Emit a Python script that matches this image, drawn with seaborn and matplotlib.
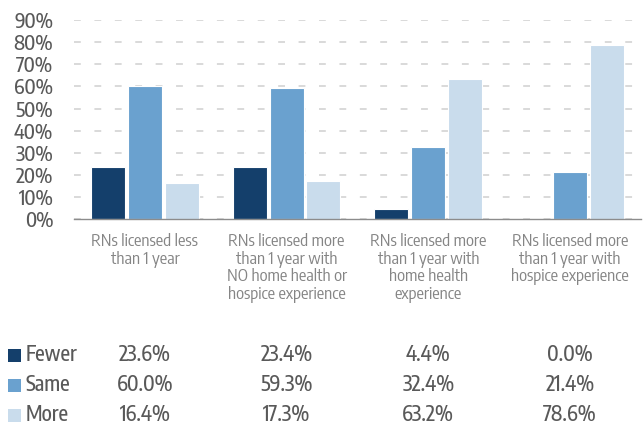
import matplotlib
matplotlib.use("Agg")
import matplotlib.pyplot as plt
import matplotlib.transforms as mtransforms
from matplotlib.patches import Rectangle
import seaborn as sns
import pandas as pd

categories = [
    "RNs licensed less\nthan 1 year",
    "RNs licensed more\nthan 1 year with\nNO home health or\nhospice experience",
    "RNs licensed more\nthan 1 year with\nhome health\nexperience",
    "RNs licensed more\nthan 1 year with\nhospice experience",
]
series = ["Fewer", "Same", "More"]
fewer = [23.6, 23.4, 4.4, 0.0]
same = [60.0, 59.3, 32.4, 21.4]
more = [16.4, 17.3, 63.2, 78.6]
yticks = [0, 10, 20, 30, 40, 50, 60, 70, 80, 90]

colors = ["#143F6B", "#6AA1CF", "#C9DCEC"]
text_color = "#595959"
label_color = "#858585"

rows = []
for name, vals in zip(series, [fewer, same, more]):
    for c, v in zip(categories, vals):
        rows.append({"category": c, "series": name, "value": v})
df = pd.DataFrame(rows)

sns.set_style("white")
plt.rcParams["font.family"] = ["Encode Sans Condensed", "DejaVu Sans"]

fig = plt.figure(figsize=(6.44, 4.29), dpi=100)
ax = fig.add_axes([0.115, 0.4895, 0.88, 0.4635])

sns.barplot(data=df, x="category", y="value", hue="series", order=categories,
            hue_order=series, palette=colors, saturation=1, width=0.78, gap=0.08,
            edgecolor="white", linewidth=0.8, ax=ax, legend=False, zorder=3)

ax.set_ylim(0, 90)
ax.set_xlim(-0.5, 3.5)
ax.set_yticks(yticks)
ax.set_yticklabels([f"{t}%" for t in yticks], fontsize=14.5, color=text_color,
                   fontweight=500)
ax.tick_params(axis="y", length=0, pad=15)
ax.tick_params(axis="x", length=0, pad=10)
for lab in ax.get_xticklabels():
    lab.set_fontsize(12)
    lab.set_color(label_color)
    lab.set_linespacing(1.05)
ax.set_xlabel("")
ax.set_ylabel("")
for s in ["top", "right", "left"]:
    ax.spines[s].set_visible(False)
ax.spines["bottom"].set_color("#8c8c8c")
ax.spines["bottom"].set_linewidth(1.0)
ax.spines["bottom"].set_zorder(4)
ax.yaxis.grid(True, color="#d9d9d9", linestyle=(0, (3.5, 7)), linewidth=1.4, zorder=0)
ax.set_axisbelow(True)

# data table
trans = mtransforms.blended_transform_factory(ax.transData, fig.transFigure)
row_y = [1 - 355 / 429, 1 - 385 / 429, 1 - 415 / 429]
for name, vals, col, y in zip(series, [fewer, same, more], colors, row_y):
    fig.patches.append(Rectangle((8 / 644, y - 6.5 / 429), 13 / 644, 13 / 429,
                                 transform=fig.transFigure, facecolor=col,
                                 edgecolor="none"))
    fig.text(26 / 644, y, name, fontsize=15, color=text_color, va="center",
             ha="left", fontweight=500)
    for i, v in enumerate(vals):
        fig.text(i, y, f"{v:.1f}%", transform=trans, fontsize=15, fontweight=500,
                 color=text_color, va="center", ha="center")

fig.savefig("out.png", dpi=100)
